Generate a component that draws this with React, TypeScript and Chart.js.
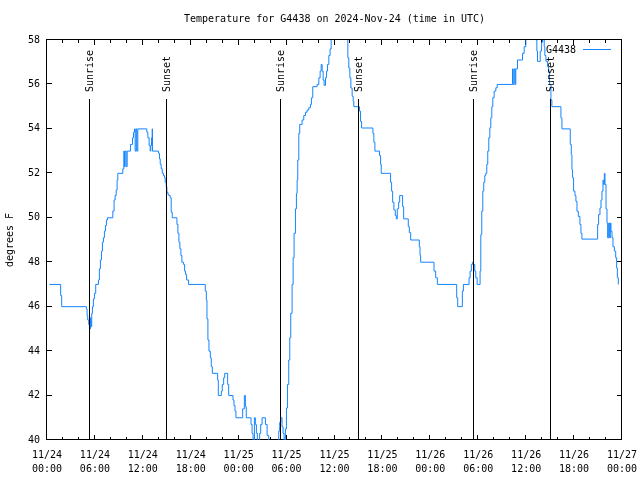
import { useEffect, useRef } from 'react';
import { Chart, registerables } from 'chart.js';

Chart.register(...registerables);

const TITLE = 'Temperature for G4438 on 2024-Nov-24 (time in UTC)';
const SERIES_LABEL = 'G4438';
const Y_TITLE = 'degrees F';
const FONT = "'DejaVu Sans Mono', 'Liberation Mono', monospace";
const LINE_COLOR = '#1485ff';

// x axis: hours since 2024-11-24 00:00 UTC
const tickHours = [0, 6, 12, 18, 24, 30, 36, 42, 48, 54, 60, 66, 72];
const tickDates = ['11/24', '11/24', '11/24', '11/24', '11/25', '11/25', '11/25', '11/25', '11/26', '11/26', '11/26', '11/26', '11/27'];
const tickTimes = ['00:00', '06:00', '12:00', '18:00', '00:00', '06:00', '12:00', '18:00', '00:00', '06:00', '12:00', '18:00', '00:00'];
const yTicks = [40, 42, 44, 46, 48, 50, 52, 54, 56, 58];

const sunHours = [5.31, 14.97, 29.27, 39.02, 53.35, 63.0];
const sunLabels = ['Sunrise', 'Sunset', 'Sunrise', 'Sunset', 'Sunrise', 'Sunset'];

const hours = [
  0.30, 1.71, 1.84, 4.93, 5.02, 5.10, 5.23, 5.31, 5.44, 5.52, 5.60, 5.69, 5.81, 5.94, 6.10, 6.44, 6.56, 6.69, 6.82, 6.94,
  7.07, 7.19, 7.32, 7.44, 7.57, 8.24, 8.40, 8.53, 8.66, 8.78, 8.87, 9.49, 9.62, 9.70, 9.78, 9.91, 10.04, 10.45, 10.71, 10.83,
  10.96, 11.04, 11.16, 11.25, 11.37, 12.50, 12.63, 12.79, 12.92, 13.00, 13.09, 13.17, 13.21, 13.97, 14.09, 14.18, 14.30, 14.43, 14.59, 14.72,
  14.80, 14.93, 15.01, 15.14, 15.26, 15.43, 15.55, 15.68, 16.27, 16.39, 16.52, 16.64, 16.77, 16.89, 17.10, 17.23, 17.35, 17.48, 17.73, 19.82,
  19.95, 20.03, 20.15, 20.28, 20.45, 20.57, 20.70, 21.37, 21.45, 21.83, 21.95, 22.12, 22.25, 22.62, 22.75, 23.29, 23.41, 23.54, 23.66,
  24.50, 24.71, 24.84, 24.95, 25.55, 25.68, 25.80, 25.97, 26.09, 26.22, 26.34, 26.63, 26.76, 26.93, 27.35, 27.56, 27.76, 29.02, 29.14, 29.27,
  29.43, 29.56, 29.69, 29.85, 29.98, 30.11, 30.27, 30.40, 30.52, 30.69, 30.82, 30.94, 31.11, 31.23, 31.32, 31.40, 31.53, 31.65, 31.94, 32.15,
  32.36, 32.57, 32.78, 32.99, 33.11, 33.28, 33.83, 34.04, 34.20, 34.33, 34.45, 34.58, 34.70, 34.87, 35.00, 35.12, 35.29, 35.45, 35.58, 35.75,
  36.00, 37.20, 37.51, 37.67, 37.79, 37.92, 38.05, 38.21, 38.34, 38.42, 39.13, 39.26, 39.39, 40.81, 40.93, 41.06, 41.64, 41.77, 41.85, 43.02,
  43.15, 43.28, 43.44, 43.61, 43.74, 43.86, 44.03, 44.16, 44.53, 44.66, 45.24, 45.37, 45.54, 46.62, 46.71, 46.79,
  48.46, 48.67, 48.88, 51.30, 51.43, 52.01, 52.14, 52.85, 52.98, 53.14, 53.27, 53.40, 53.56, 53.69, 53.86, 54.23, 54.32, 54.44, 54.57, 54.69,
  54.82, 54.94, 55.07, 55.19, 55.32, 55.45, 55.57, 55.70, 55.82, 55.99, 56.20, 56.37, 58.29, 58.37, 58.50, 58.62, 58.70, 58.91, 59.54, 59.75,
  59.96, 60.20, 61.21, 61.34, 61.42, 61.76, 61.93, 62.05, 62.18, 62.26, 62.34, 62.47, 62.68, 62.81, 62.93, 63.10, 63.22, 64.35, 64.48, 65.52,
  65.65, 65.73, 65.81, 65.94, 66.11, 66.23, 66.36, 66.53, 66.73, 66.86, 66.98, 68.95, 69.07, 69.24, 69.37, 69.49, 69.62, 69.70, 69.79, 69.87,
  70.00, 70.12, 70.20, 70.33, 70.45, 70.54, 70.62, 70.75, 70.87, 71.04, 71.21, 71.33, 71.42, 71.54,
];

const tempsF = [
  47.0, 46.5, 46.0, 45.9, 45.6, 45.4, 45.2, 45.0, 45.5, 45.1, 45.7, 46.0, 46.35, 46.6, 47.0, 47.2, 47.7, 48.1, 48.5, 48.9,
  49.1, 49.4, 49.65, 49.9, 50.0, 50.3, 50.8, 51.0, 51.25, 51.7, 52.0, 52.2, 53.0, 52.3, 53.0, 52.3, 53.0, 53.3, 53.6, 53.85,
  54.0, 53.0, 54.0, 53.0, 54.0, 53.85, 53.6, 53.25, 53.0, 53.25, 53.6, 54.0, 53.0, 52.9, 52.65, 52.4, 52.2, 52.0, 51.9, 51.8,
  51.6, 51.4, 51.15, 51.05, 51.0, 50.9, 50.25, 50.0, 49.7, 49.3, 48.9, 48.6, 48.3, 48.0, 47.9, 47.6, 47.45, 47.2, 47.0, 46.7,
  46.3, 45.45, 44.5, 44.0, 43.7, 43.3, 43.0, 42.7, 42.0, 42.2, 42.5, 42.8, 43.0, 42.5, 42.0, 41.8, 41.55, 41.3, 41.0,
  41.4, 42.0, 41.5, 41.0, 40.7, 40.3, 39.8, 41.0, 40.7, 40.3, 39.8, 40.3, 40.7, 41.0, 40.7, 40.2, 39.5, 40.4, 40.8, 41.0,
  40.6, 40.3, 39.8, 40.5, 41.44, 42.5, 43.6, 44.6, 45.7, 47.0, 48.2, 49.3, 50.4, 51.1, 51.7, 52.6, 53.8, 54.2, 54.4, 54.6,
  54.75, 54.85, 54.95, 55.1, 55.4, 55.9, 56.0, 56.3, 56.6, 56.9, 56.6, 56.2, 55.96, 56.3, 56.6, 56.9, 57.3, 57.6, 58.1, 58.6,
  59.0, 58.6, 58.1, 57.2, 56.74, 56.3, 55.84, 55.47, 55.24, 55.0, 54.8, 54.34, 54.04, 53.8, 53.4, 53.0, 52.8, 52.4, 52.0, 51.6,
  51.2, 50.7, 50.35, 50.1, 49.95, 50.4, 50.7, 51.0, 50.5, 49.95, 49.6, 49.33, 49.0, 48.7, 48.3, 48.0,
  47.6, 47.3, 47.0, 46.4, 46.0, 46.7, 47.0, 47.3, 47.6, 47.9, 48.0, 47.9, 47.6, 47.3, 47.0, 47.6, 49.24, 50.3, 51.2, 51.6,
  51.9, 52.0, 52.4, 53.0, 53.6, 54.05, 54.5, 55.0, 55.4, 55.7, 55.85, 56.0, 56.7, 56.0, 56.7, 56.0, 56.7, 57.1, 57.4, 57.7,
  58.1, 58.5, 58.0, 57.5, 57.04, 57.5, 57.9, 58.3, 58.0, 57.7, 57.3, 57.04, 56.8, 56.6, 56.0, 55.3, 55.0, 54.5, 54.0, 53.3,
  52.84, 52.16, 51.8, 51.2, 51.0, 50.74, 50.3, 50.06, 49.7, 49.3, 49.04, 49.7, 50.14, 50.44, 50.8, 51.2, 51.7, 51.5, 52.0, 51.5,
  50.4, 49.76, 49.1, 49.76, 49.1, 49.76, 49.4, 49.1, 48.7, 48.5, 48.2, 47.74, 47.3, 47.0,
];

const MAJOR_TICK = 5;
const MINOR_TICK = 3;

const framePlugin = {
  id: 'gnuplotFrame',
  beforeDatasetsDraw(chart: any) {
    const { ctx, chartArea: a, scales } = chart;
    const xs = scales.x;
    const ys = scales.y;
    ctx.save();
    ctx.strokeStyle = '#000';
    ctx.lineWidth = 1;
    ctx.beginPath();
    // ticks on x (bottom and mirrored top), minor every 2 h
    for (let h = 0; h <= 72; h += 2) {
      const px = Math.round(xs.getPixelForValue(h)) - 0.5;
      const len = h % 6 === 0 ? MAJOR_TICK : MINOR_TICK;
      ctx.moveTo(px, a.bottom);
      ctx.lineTo(px, a.bottom - len);
      ctx.moveTo(px, a.top);
      ctx.lineTo(px, a.top + len);
    }
    for (const v of yTicks) {
      const py = Math.round(ys.getPixelForValue(v)) - 0.5;
      ctx.moveTo(a.left, py);
      ctx.lineTo(a.left + MAJOR_TICK, py);
      ctx.moveTo(a.right, py);
      ctx.lineTo(a.right - MAJOR_TICK, py);
    }
    ctx.stroke();
    ctx.strokeRect(a.left - 0.5, a.top - 0.5, a.right - a.left, a.bottom - a.top);
    ctx.restore();
  },
  afterDatasetsDraw(chart: any) {
    const { ctx, chartArea: a, scales } = chart;
    const xs = scales.x;
    const h = a.bottom - a.top;
    ctx.save();
    ctx.strokeStyle = '#000';
    ctx.fillStyle = '#000';
    ctx.lineWidth = 1;
    ctx.font = `10px ${FONT}`;
    sunHours.forEach((hr, i) => {
      const px = Math.floor(xs.getPixelForValue(hr)) + 0.5;
      ctx.beginPath();
      ctx.moveTo(px, a.bottom);
      ctx.lineTo(px, a.bottom - 0.8525 * h);
      ctx.stroke();
      ctx.save();
      ctx.translate(px + 0.5, a.bottom - 0.87 * h);
      ctx.rotate(-Math.PI / 2);
      ctx.textAlign = 'left';
      ctx.textBaseline = 'middle';
      ctx.fillText(sunLabels[i], 0, 0);
      ctx.restore();
    });
    // key
    ctx.textAlign = 'right';
    ctx.textBaseline = 'middle';
    ctx.fillText(chart.data.datasets[0].label, a.right - 46, a.top + 10);
    ctx.strokeStyle = LINE_COLOR;
    ctx.beginPath();
    ctx.moveTo(a.right - 39, a.top + 9.5);
    ctx.lineTo(a.right - 11, a.top + 9.5);
    ctx.stroke();
    // title
    ctx.fillStyle = '#000';
    ctx.textAlign = 'center';
    ctx.fillText(TITLE, (a.left + a.right) / 2, 19);
    ctx.restore();
  },
};

export default function App() {
  const ref = useRef<HTMLCanvasElement | null>(null);
  useEffect(() => {
    if (!ref.current) return;
    const chart = new Chart(ref.current, {
      type: 'line',
      data: {
        datasets: [
          {
            label: SERIES_LABEL,
            data: hours.map((x, i) => ({ x, y: tempsF[i] })),
            borderColor: LINE_COLOR,
            borderWidth: 1,
            pointRadius: 0,
            stepped: 'before',
            fill: false,
          },
        ],
      },
      options: {
        animation: false,
        responsive: false,
        maintainAspectRatio: false,
        layout: { padding: { top: 40, right: 18, left: 0, bottom: 0 } },
        plugins: {
          legend: { display: false },
          title: { display: false },
          tooltip: { enabled: false },
        },
        scales: {
          x: {
            type: 'linear',
            min: 0,
            max: 72,
            afterFit: (s: any) => {
              s.height = 40;
              s.paddingLeft = 0;
              s.paddingRight = 0;
            },
            ticks: {
              stepSize: 6,
              autoSkip: false,
              maxRotation: 0,
              padding: 8,
              color: '#000',
              font: { family: FONT, size: 10, lineHeight: 1.4 },
              callback: (v: any) => {
                const i = tickHours.indexOf(Number(v));
                return i >= 0 ? [tickDates[i], tickTimes[i]] : '';
              },
            },
            grid: { display: false, drawTicks: false },
            border: { display: false },
          },
          y: {
            type: 'linear',
            min: 40,
            max: 58,
            afterFit: (s: any) => {
              s.width = 47;
              s.paddingTop = 0;
              s.paddingBottom = 0;
            },
            ticks: {
              stepSize: 2,
              padding: 7,
              color: '#000',
              font: { family: FONT, size: 10 },
            },
            grid: { display: false, drawTicks: false },
            border: { display: false },
            title: {
              display: true,
              text: Y_TITLE,
              color: '#000',
              font: { family: FONT, size: 10 },
              padding: { top: 4, bottom: 4 },
            },
          },
        },
      },
      plugins: [framePlugin],
    });
    return () => chart.destroy();
  }, []);
  return (
    <div style={{ position: 'fixed', left: 0, top: 0, width: 640, height: 480, background: '#fff' }}>
      <canvas ref={ref} width={640} height={480} />
    </div>
  );
}
